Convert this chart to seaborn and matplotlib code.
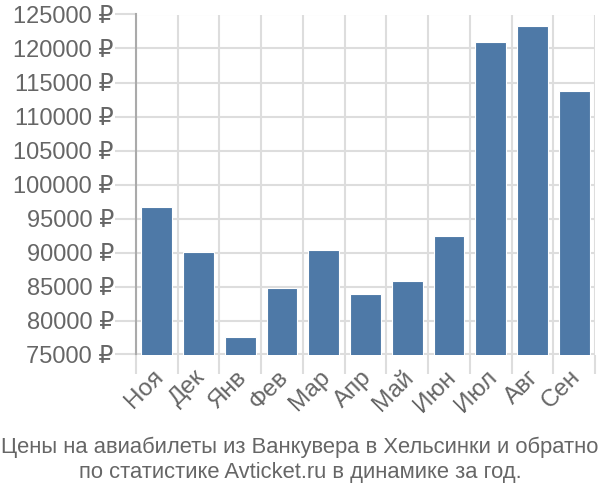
import matplotlib
matplotlib.use("Agg")
import matplotlib.pyplot as plt
import matplotlib.transforms as mtransforms
import seaborn as sns
import numpy as np
import pandas as pd
from matplotlib.ticker import FixedLocator, FuncFormatter

months = ["Ноя", "Дек", "Янв", "Фев", "Мар", "Апр", "Май", "Июн", "Июл", "Авг", "Сен"]
prices = [96735, 90118, 77618, 84735, 90368, 83897, 85809, 92426, 120912, 123353, 113750]
yticks = [75000, 80000, 85000, 90000, 95000, 100000, 105000, 110000, 115000, 120000, 125000]
caption = "Цены на авиабилеты из Ванкувера в Хельсинки и обратно\nпо статистике Avticket.ru в динамике за год."

sns.set_theme(style="white")
plt.rcParams['font.family'] = ['Liberation Sans', 'DejaVu Sans']

df = pd.DataFrame({"month": months, "price": prices})

fig = plt.figure(figsize=(6, 5), dpi=100)
ax = fig.add_axes([136/600, 1-354.5/500, (595-136)/600, (354.5-14.5)/500])

sns.barplot(data=df, x="month", y="price", color="#4e79a7", saturation=1,
            width=0.74, edgecolor="white", linewidth=0.8, ax=ax, zorder=3)

ax.set_ylim(75000, 125000)
ax.set_xlim(-0.5, len(months) - 0.5)
ax.set_yticks(yticks)
ax.yaxis.set_major_formatter(FuncFormatter(lambda v, p: f"{int(v)} ₽"))
ax.set_xlabel("")
ax.set_ylabel("")

grid_c = "#dddddd"
text_c = "#666666"
ax.xaxis.set_minor_locator(FixedLocator(np.arange(-0.5, len(months), 1.0)))
ax.grid(True, axis="y", which="major", color=grid_c, linewidth=1.5, zorder=0)
ax.grid(True, axis="x", which="minor", color=grid_c, linewidth=1.5, zorder=0)
ax.grid(False, axis="x", which="major")

ax.tick_params(axis="y", which="major", length=15, width=1.5, color=grid_c,
               labelsize=17, labelcolor=text_c, pad=1, left=True)
ax.tick_params(axis="x", which="major", length=0, labelsize=17.5, labelcolor=text_c, pad=14)
ax.tick_params(axis="x", which="minor", length=14, width=1.5, color=grid_c, bottom=True)

offset = mtransforms.ScaledTranslation(3/100, 0, fig.dpi_scale_trans)
for lbl in ax.get_xticklabels():
    lbl.set_rotation(45)
    lbl.set_ha("right")
    lbl.set_rotation_mode("anchor")
    lbl.set_va("center")
    lbl.set_transform(lbl.get_transform() + offset)

for s in ["top", "right", "bottom"]:
    ax.spines[s].set_visible(False)
ax.spines["left"].set_color("#aaaaaa")
ax.spines["left"].set_linewidth(1.5)
ax.spines["left"].set_zorder(4)

fig.text(0.5, 1-460/500, caption, ha="center", va="center", fontsize=15.8,
         color=text_c, linespacing=1.25)

fig.savefig("out.png", dpi=100)
